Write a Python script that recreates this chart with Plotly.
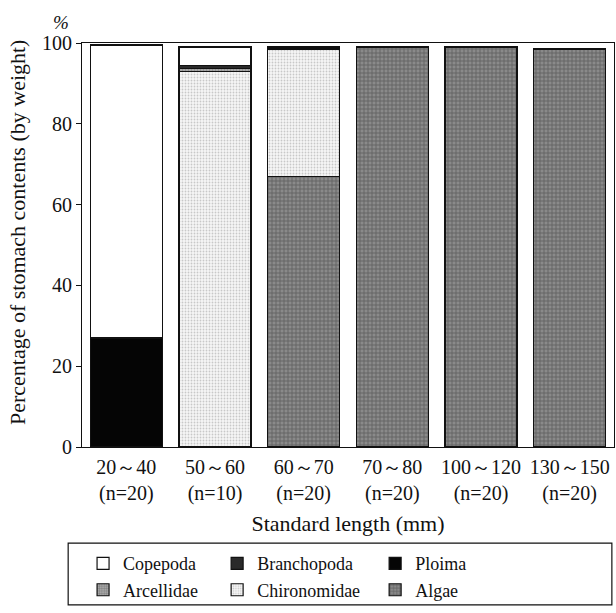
import plotly.graph_objects as go

categories = ["20～40<br>(n=20)", "50～60<br>(n=10)", "60～70<br>(n=20)",
              "70～80<br>(n=20)", "100～120<br>(n=20)", "130～150<br>(n=20)"]
algae = [0, 0, 67, 99, 99, 98.5]
ploima = [27, 0, 0, 0, 0, 0]
chironomidae = [0, 93, 31.5, 0, 0, 0]
arcellidae = [0, 0.6, 0, 0, 0, 0]
branchopoda = [0, 0.8, 0.5, 0, 0, 0]
copepoda = [72.5, 4.6, 0, 0, 0, 0]

FONT = "'Liberation Serif', 'DejaVu Serif', serif"

# (name, values, marker, legend column, rank within column)
series = [
    ("Algae", algae, dict(color="#8a8a8a", pattern=dict(shape="+", fgcolor="#3a3a3a", bgcolor="#8a8a8a", size=4, solidity=0.4)), "legend3", 2),
    ("Ploima", ploima, dict(color="#050505"), "legend3", 1),
    ("Chironomidae", chironomidae, dict(color="#e6e6e6", pattern=dict(shape=".", fgcolor="#999999", bgcolor="#f6f6f6", size=3, solidity=0.3)), "legend2", 2),
    ("Arcellidae", arcellidae, dict(color="#a0a0a0", pattern=dict(shape=".", fgcolor="#555555", bgcolor="#b0b0b0", size=3, solidity=0.5)), "legend", 2),
    ("Branchopoda", branchopoda, dict(color="#2a2a2a"), "legend2", 1),
    ("Copepoda", copepoda, dict(color="#ffffff"), "legend", 1),
]

fig = go.Figure()
for name, vals, marker, leg, rank in series:
    m = dict(marker)
    m["line"] = dict(color="#111111", width=1.2)
    fig.add_trace(go.Bar(x=categories, y=vals, name=name, marker=m,
                         legend=leg, legendrank=rank))

def legend_at(x):
    return dict(orientation="v", x=x, xanchor="left", y=-0.243, yanchor="top",
                borderwidth=0, bgcolor="rgba(0,0,0,0)", traceorder="normal",
                font=dict(family=FONT, size=18), itemwidth=30, tracegroupgap=0)

fig.update_layout(
    width=616, height=613,
    barmode="stack", bargap=0.19,
    plot_bgcolor="white", paper_bgcolor="white",
    margin=dict(l=82, r=2, t=43, b=166, autoexpand=False),
    font=dict(family=FONT, size=20, color="#111111"),
    showlegend=True,
    legend=legend_at(0.002),
    legend2=legend_at(0.254),
    legend3=legend_at(0.551),
    xaxis=dict(
        showline=True, linecolor="#111111", linewidth=1.2, mirror=True,
        ticks="", tickfont=dict(family=FONT, size=20), ticklabelstandoff=2,
        title=dict(text="Standard length (mm)", font=dict(family=FONT, size=22), standoff=11),
    ),
    yaxis=dict(
        range=[0, 100], tickvals=[0, 20, 40, 60, 80, 100],
        showline=True, linecolor="#111111", linewidth=1.2, mirror=True,
        ticks="outside", ticklen=5, tickcolor="#111111",
        showgrid=False, zeroline=False,
        tickfont=dict(family=FONT, size=20),
    ),
    shapes=[dict(type="rect", xref="paper", yref="paper", x0=-0.026, x1=0.996,
                 y0=-0.391, y1=-0.238, line=dict(color="#111111", width=1.2))],
    annotations=[
        dict(text="<i>%</i>", xref="paper", yref="paper", x=-0.04, y=1.0,
             yshift=8, xanchor="center", yanchor="bottom", showarrow=False,
             font=dict(family=FONT, size=19)),
        dict(text="Percentage of stomach contents (by weight)", xref="paper", yref="paper",
             x=-0.12, y=0.53, xanchor="center", yanchor="middle", textangle=-90,
             showarrow=False, font=dict(family=FONT, size=22)),
    ],
)

fig.write_html("out.html", config={"displayModeBar": False},
               post_script="document.body.style.margin='0';")
